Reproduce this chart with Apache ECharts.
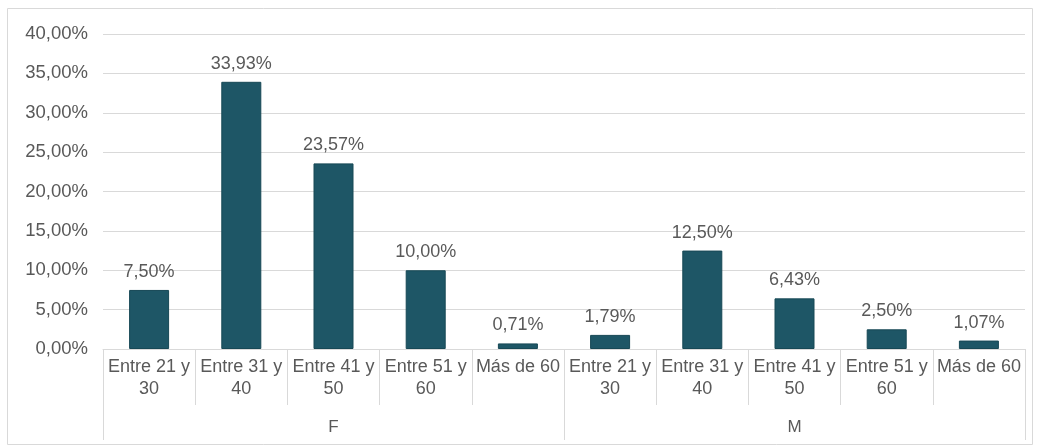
<!DOCTYPE html>
<html><head><meta charset="utf-8">
<script src="https://cdn.jsdelivr.net/npm/echarts@6/dist/echarts.min.js"></script>
<style>html,body{margin:0;padding:0;background:#fff;}#c{width:1038px;height:447px;}</style>
</head><body><div id="c"></div>
<script>
const categories = ['Entre 21 y\n30','Entre 31 y\n40','Entre 41 y\n50','Entre 51 y\n60','Más de 60','Entre 21 y\n30','Entre 31 y\n40','Entre 41 y\n50','Entre 51 y\n60','Más de 60'];
const groups = ['F','M'];
const values = [7.50, 33.93, 23.57, 10.00, 0.71, 1.79, 12.50, 6.43, 2.50, 1.07];
const fmt = v => v.toFixed(2).replace('.', ',') + '%';
const FONT = 'Liberation Sans, Arial';
const chart = echarts.init(document.getElementById('c'));
chart.setOption({
  animation: false,
  graphic: [{type:'rect', shape:{x:7.5,y:8.5,width:1025,height:436}, style:{fill:'none', stroke:'#d9d9d9', lineWidth:1}, silent:true}],
  grid: {left:103, right:13, top:34, bottom:98},
  xAxis: [
    {type:'category', data:categories, position:'bottom',
     axisLine:{lineStyle:{color:'#d9d9d9'}},
     axisTick:{show:true, length:56, lineStyle:{color:'#d9d9d9'}},
     axisLabel:{interval:0, color:'#595959', fontFamily:FONT, fontSize:18, lineHeight:22, margin:7}},
    {type:'category', data:groups, position:'bottom',
     axisLine:{show:false},
     axisTick:{show:true, length:91, lineStyle:{color:'#d9d9d9'}},
     axisLabel:{color:'#595959', fontFamily:FONT, fontSize:17, margin:70}}
  ],
  yAxis: {type:'value', min:0, max:40, interval:5,
    axisLine:{show:false}, axisTick:{show:false},
    splitLine:{lineStyle:{color:'#d9d9d9'}},
    axisLabel:{formatter: v => v.toFixed(2).replace('.', ',') + '%', color:'#595959', fontFamily:FONT, fontSize:18.5, margin:15}},
  series: [{type:'bar', data:values, xAxisIndex:0, barWidth:40,
    itemStyle:{color:'#1e5666', borderColor:'#174855', borderWidth:1},
    label:{show:true, position:'top', distance:9, formatter: p => fmt(p.value), color:'#595959', fontFamily:FONT, fontSize:18}}]
});
</script></body></html>
